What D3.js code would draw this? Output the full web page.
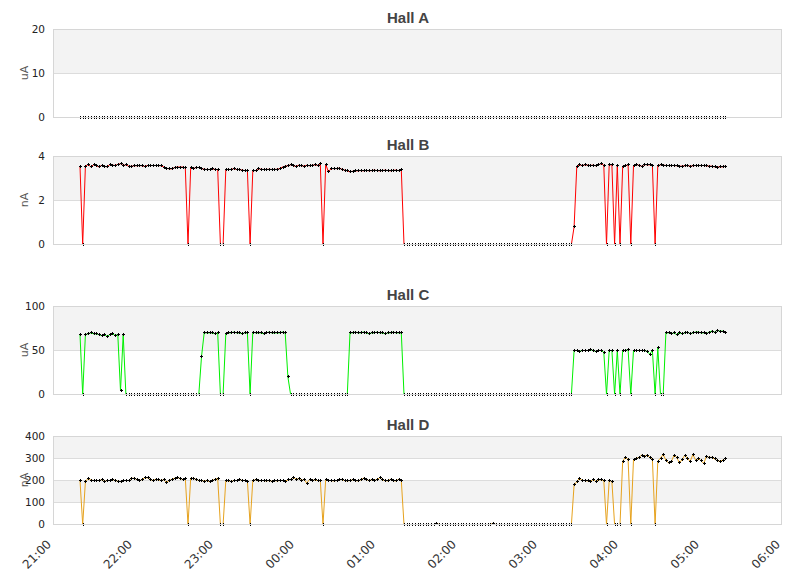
<!DOCTYPE html>
<html>
<head>
<meta charset="utf-8">
<script src="https://cdn.jsdelivr.net/npm/d3@7"></script>
<style>
body { margin: 0; background: #fff; }
svg { display: block; font-family: "DejaVu Sans", sans-serif; }
.title { font-family: "Liberation Sans", Arial, sans-serif; font-weight: bold; font-size: 15px; fill: #444; }
.tick-label { font-size: 10.5px; fill: #222; }
.unit { font-size: 11px; fill: #555; }
.x-label { font-size: 12px; fill: #333; }
</style>
</head>
<body>
<div id="chart"></div>
<script>
// samples every 2 minutes starting 21:20
const startTime = new Date(2020, 0, 1, 21, 20);
const stepMinutes = 2;

const hallNames = ["Hall A", "Hall B", "Hall C", "Hall D"];
const hallUnits = ["uA", "nA", "uA", "nA"];
const hallTicks = [[0, 10, 20], [0, 2, 4], [0, 50, 100], [0, 100, 200, 300, 400]];
const hallColors = ["#222222", "#ff0000", "#00f000", "#e6a21e"];

const hallA = [
  0,0,0,0,0,0,0,0,0,0,0,0,0,0,0,0,0,0,0,0,
  0,0,0,0,0,0,0,0,0,0,0,0,0,0,0,0,0,0,0,0,
  0,0,0,0,0,0,0,0,0,0,0,0,0,0,0,0,0,0,0,0,
  0,0,0,0,0,0,0,0,0,0,0,0,0,0,0,0,0,0,0,0,
  0,0,0,0,0,0,0,0,0,0,0,0,0,0,0,0,0,0,0,0,
  0,0,0,0,0,0,0,0,0,0,0,0,0,0,0,0,0,0,0,0,
  0,0,0,0,0,0,0,0,0,0,0,0,0,0,0,0,0,0,0,0,
  0,0,0,0,0,0,0,0,0,0,0,0,0,0,0,0,0,0,0,0,
  0,0,0,0,0,0,0,0,0,0,0,0,0,0,0,0,0,0,0,0,
  0,0,0,0,0,0,0,0,0,0,0,0,0,0,0,0,0,0,0,0,
  0,0,0,0,0,0,0,0,0,0,0,0,0,0,0,0,0,0,0,0,
  0,0,0,0,0,0,0,0,0,0,0,0,0,0,0,0,0,0,0,0
];

const hallB = [
  3.55, 0,
  3.56, 3.64, 3.53, 3.62, 3.58, 3.53, 3.59, 3.56, 3.53, 3.62,
  3.61, 3.59, 3.64, 3.67, 3.59, 3.62, 3.56, 3.55, 3.58, 3.58,
  3.59, 3.58, 3.55, 3.59, 3.59, 3.59, 3.59, 3.59, 3.58, 3.52,
  3.47, 3.44, 3.44, 3.49, 3.52, 3.52, 3.52, 3.49,
  0,
  3.5, 3.45, 3.5, 3.5, 3.45, 3.42, 3.41, 3.41, 3.44, 3.41, 3.41,
  0, 0,
  3.41, 3.41, 3.41, 3.45, 3.41, 3.41, 3.38, 3.36, 3.36,
  0,
  3.36, 3.36, 3.45, 3.42, 3.41, 3.41, 3.42, 3.41, 3.41, 3.42,
  3.45, 3.52, 3.56, 3.58, 3.62, 3.58, 3.55, 3.6, 3.58, 3.56,
  3.6, 3.58, 3.6, 3.62, 3.6, 3.67,
  0,
  3.65, 3.3, 3.45, 3.45, 3.45, 3.47, 3.42, 3.38, 3.35, 3.3,
  3.33, 3.35, 3.35, 3.36, 3.35, 3.37, 3.35, 3.36, 3.38, 3.36,
  3.35, 3.36, 3.38, 3.36, 3.35, 3.37, 3.38, 3.36, 3.4,
  0,0,0,0,0,0,0,0,0,0,
  0,0,0,0,0,0,0,0,0,0,
  0,0,0,0,0,0,0,0,0,0,
  0,0,0,0,0,0,0,0,0,0,
  0,0,0,0,0,0,0,0,0,0,
  0,0,0,0,0,0,0,0,0,0,
  0,0,0,
  0.8,
  3.56, 3.62, 3.59, 3.62, 3.61, 3.59, 3.61, 3.58, 3.62, 3.67,
  3.6, 0, 3.62, 3.62, 0, 3.6, 0, 3.56, 3.58, 3.62,
  0, 3.58, 3.64, 3.6, 3.56, 3.64, 3.62, 3.62, 3.59, 0,
  3.58, 3.62, 3.61, 3.59, 3.59, 3.59, 3.59, 3.58, 3.56, 3.56,
  3.58, 3.59, 3.56, 3.58, 3.59, 3.59, 3.59, 3.59, 3.58, 3.56,
  3.56, 3.53, 3.52, 3.53, 3.53, 3.56
];

const hallC = [
  68, 0,
  68, 69, 70, 69, 69, 68, 67, 68, 66, 68, 69, 67, 68,
  4, 68,
  0,0,0,0,0,0,0,0,0,0,
  0,0,0,0,0,0,0,0,0,0,
  0,0,0,0,0,0,0,0,
  43,
  70, 70, 70, 70, 69, 70,
  0, 0,
  69, 70, 70, 71, 70, 70, 69, 70, 70,
  0,
  71, 70, 70, 70, 69, 70, 71, 70, 70, 70, 70, 71, 70,
  20,
  0,0,0,0,0,0,0,0,0,0,
  0,0,0,0,0,0,0,0,0,0,
  0,0,
  70, 70, 71, 70, 70, 71, 70, 69, 70, 70,
  71, 70, 70, 69, 70, 70, 71, 70, 70, 70,
  0,0,0,0,0,0,0,0,0,0,
  0,0,0,0,0,0,0,0,0,0,
  0,0,0,0,0,0,0,0,0,0,
  0,0,0,0,0,0,0,0,0,0,
  0,0,0,0,0,0,0,0,0,0,
  0,0,0,0,0,0,0,0,0,0,
  0,0,0,
  50, 50, 49, 50, 50, 50, 51, 50, 49, 50,
  50, 48, 0, 50, 50, 0, 50, 0, 50, 50,
  51, 0, 50, 50, 50, 50, 50, 49, 46, 50,
  0, 53, 0, 0, 70, 70, 69, 70, 68, 70,
  69, 70, 71, 69, 70, 71, 71, 70, 70, 69,
  71, 72, 71, 73, 72, 72, 71
];

const hallD = [
  200, 0,
  195, 210, 202, 200, 200, 200, 203, 195, 200, 200,
  205, 200, 197, 195, 200, 200, 200, 210, 210, 205,
  198, 205, 213, 212, 205, 200, 205, 203, 200, 203,
  193, 200, 205, 210, 213, 210, 205, 210,
  0,
  210, 210, 205, 200, 200, 197, 200, 195, 200, 205, 210,
  0, 0,
  200, 198, 195, 200, 200, 205, 200, 200, 197,
  0,
  200, 203, 198, 200, 200, 198, 200, 197, 200, 198,
  200, 200, 197, 203, 205, 215, 205, 208, 200, 205,
  188, 205, 200, 203, 200, 200,
  0,
  205, 200, 200, 198, 200, 203, 205, 200, 198, 200,
  203, 200, 198, 203, 210, 205, 200, 203, 200, 205,
  212, 203, 200, 198, 205, 200, 198, 205, 200,
  0,0,0,0,0,0,0,0,0,0,0,0,
  6,
  0,0,0,0,0,0,0,0,0,0,0,0,0,0,0,0,0,0,0,0,
  6,
  0,0,0,0,0,0,0,0,0,0,0,0,0,0,0,0,0,0,0,0,0,0,0,0,0,0,0,0,0,
  180, 195, 210, 200, 200, 198, 195, 205, 195, 203,
  203, 200, 0, 200, 195, 0, 0, 0, 288, 305,
  295, 0, 295, 300, 305, 315, 310, 315, 305, 295,
  0, 288, 302, 318, 292, 280, 285, 315, 305, 280,
  295, 315, 300, 287, 318, 292, 300, 290, 277, 310,
  305, 305, 298, 290, 288, 292, 302
];

const hallSeries = [hallA, hallB, hallC, hallD];

// layout
const W = 811, H = 578;
const plotLeft = 53, plotRight = 782, plotH = 88;
const plotTops = [29, 156, 306, 436];

const svg = d3.select("#chart").append("svg")
    .attr("width", W)
    .attr("height", H);

const x = d3.scaleTime()
    .domain([new Date(2020, 0, 1, 21, 0), new Date(2020, 0, 2, 6, 0)])
    .range([plotLeft, plotRight]);

const timeAt = i => d3.timeMinute.offset(startTime, i * stepMinutes);

hallNames.forEach((name, k) => {
    const top = plotTops[k];
    const ticks = hallTicks[k];
    // half pixel offset so the zero line sits right under the frame
    const y = d3.scaleLinear()
        .domain([0, d3.max(ticks)])
        .range([top + plotH + 0.5, top + 0.5]);

    const g = svg.append("g");

    // alternating bands, grey from the top down
    const bands = d3.pairs(ticks).reverse();
    g.selectAll("rect.band")
        .data(bands)
        .join("rect")
        .attr("class", "band")
        .attr("x", plotLeft)
        .attr("width", plotRight - plotLeft)
        .attr("y", d => y(d[1]))
        .attr("height", d => y(d[0]) - y(d[1]))
        .attr("fill", (d, i) => i % 2 === 0 ? "#f3f3f3" : "#fff");

    g.selectAll("line.grid")
        .data(ticks)
        .join("line")
        .attr("class", "grid")
        .attr("x1", plotLeft).attr("x2", plotRight)
        .attr("y1", d => Math.floor(y(d)) + 0.5)
        .attr("y2", d => Math.floor(y(d)) + 0.5)
        .attr("stroke", "#dcdcdc");

    g.selectAll("text.tick-label")
        .data(ticks)
        .join("text")
        .attr("class", "tick-label")
        .attr("x", 45)
        .attr("y", d => y(d))
        .attr("dy", "0.36em")
        .attr("text-anchor", "end")
        .text(d => d);

    g.append("text")
        .attr("class", "unit")
        .attr("transform", `translate(28,${top + plotH / 2}) rotate(-90)`)
        .attr("text-anchor", "middle")
        .text(hallUnits[k]);

    g.append("text")
        .attr("class", "title")
        .attr("x", 408)
        .attr("y", top - 6)
        .attr("text-anchor", "middle")
        .text(name);

    // series
    const pts = hallSeries[k].map((v, i) => ({ t: timeAt(i), v }));
    const line = d3.line().x(d => x(d.t)).y(d => y(d.v));

    g.append("path")
        .datum(pts)
        .attr("d", line)
        .attr("fill", "none")
        .attr("stroke", hallColors[k])
        .attr("stroke-width", 1);

    g.append("path")
        .attr("d", pts.map(d => {
            const px = Math.round(x(d.t)) + 0.5, py = Math.floor(y(d.v)) + 0.5;
            return `M${px - 1.5},${py}H${px + 1.5}M${px},${py - 1.5}V${py + 1.5}`;
        }).join(""))
        .attr("stroke", "#000")
        .attr("stroke-width", 1)
        .attr("shape-rendering", "crispEdges");

    // frame on top
    g.append("rect")
        .attr("x", plotLeft + 0.5)
        .attr("y", top + 0.5)
        .attr("width", plotRight - plotLeft - 1)
        .attr("height", plotH)
        .attr("fill", "none")
        .attr("stroke", "#d6d6d6");
});

// shared time axis under the last panel
const hours = x.ticks(d3.timeHour.every(1));
svg.selectAll("text.x-label")
    .data(hours)
    .join("text")
    .attr("class", "x-label")
    .attr("text-anchor", "end")
    .attr("transform", d => `translate(${x(d) - 1},${545}) rotate(-45)`)
    .text(d => d3.timeFormat("%H:%M")(d));
</script>
</body>
</html>
